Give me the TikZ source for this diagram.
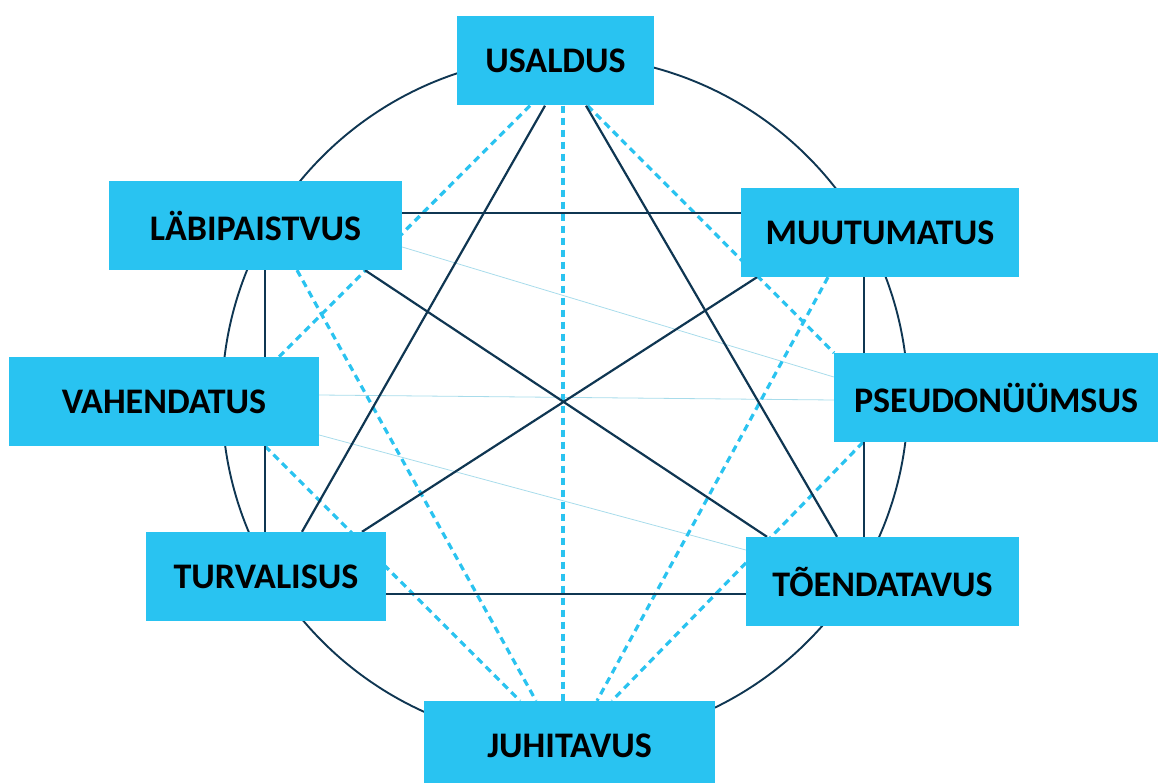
\documentclass[tikz,border=0pt]{standalone}
\usepackage{fontspec}
\setmainfont{Carlito}
\usetikzlibrary{backgrounds}
\definecolor{boxblue}{HTML}{29C3F1}
\definecolor{navy}{HTML}{0F3652}
\definecolor{dashblue}{HTML}{2AC3F0}
\definecolor{thinblue}{HTML}{A8DCEB}
\tikzset{
  lbl/.style={rectangle, fill=boxblue, inner sep=0pt, minimum height=89pt,
    font=\fontsize{36}{42}\selectfont\bfseries, text=black},
  solidln/.style={draw=navy, line width=2.2pt},
  dashln/.style={draw=dashblue, line width=3.2pt, dash pattern=on 7pt off 5pt},
  thinln/.style={draw=thinblue, line width=0.8pt},
  ring/.style={draw=navy, line width=1.9pt}
}
\begin{document}
\begin{tikzpicture}[x=1pt, y=-1pt]
\useasboundingbox (0,0) rectangle (1158,783);
\node[lbl, minimum width=197pt] (U) at (555.5,61) {USALDUS};
\node[lbl, minimum width=293pt] (L) at (255.5,225.5) {LÄBIPAISTVUS};
\node[lbl, minimum width=278pt] (M) at (880,232.5) {MUUTUMATUS};
\node[lbl, minimum width=324pt] (P) at (996,397.5) {PSEUDONÜÜMSUS};
\node[lbl, minimum width=310pt] (V) at (164,401.5) {VAHENDATUS};
\node[lbl, minimum width=240pt] (Tu) at (266,576.5) {TURVALISUS};
\node[lbl, minimum width=273pt] (To) at (882.5,581.5) {TÕENDATAVUS};
\node[lbl, minimum width=291pt] (J) at (569.5,745.5) {JUHITAVUS};
\coordinate (C) at (565,399);
\begin{scope}[on background layer]
  \draw[ring] (C) circle[radius=343pt];
  % thin links
  \draw[thinln] ([yshift=-21.5pt]L.east) -- ([yshift=20.5pt]P.west);
  \draw[thinln] ([yshift=6.5pt]V.east) -- ([yshift=-2.5pt]P.west);
  \draw[thinln] ([yshift=-33.5pt]V.east) -- ([yshift=31.5pt]To.west);
  % dashed links
  \draw[dashln] ([xshift=-25.5pt]U.south) -- ([xshift=115pt]V.north);
  \draw[dashln] ([xshift=32pt]U.south) -- ([xshift=-162pt]P.north);
  \draw[dashln] ([xshift=7.5pt]U.south) -- ([xshift=-6.5pt]J.north);
  \draw[dashln] ([xshift=41.5pt]L.south) -- ([xshift=-33.5pt]J.north);
  \draw[dashln] ([xshift=101pt]V.south) -- ([xshift=-49.5pt]J.north);
  \draw[dashln] ([xshift=-52pt]M.south) -- ([xshift=27.5pt]J.north);
  \draw[dashln] ([xshift=-133pt]P.south) -- ([xshift=42.5pt]J.north);
  % solid links
  \draw[solidln] ([xshift=-10.5pt]U.south) -- ([xshift=36pt]Tu.north);
  \draw[solidln] ([xshift=30.5pt]U.south) -- ([xshift=-45.5pt]To.north);
  \draw[solidln] ([yshift=12.5pt]L.east) -- ([yshift=19.5pt]M.west);
  \draw[solidln] ([xshift=109.5pt]L.south) -- ([xshift=-115.5pt]To.north);
  \draw[solidln] ([xshift=-123pt]M.south) -- ([xshift=96pt]Tu.north);
  \draw[solidln] ([xshift=9.5pt]L.south) -- ([xshift=-1pt]Tu.north);
  \draw[solidln] ([xshift=-16pt]M.south) -- ([xshift=-18.5pt]To.north);
  \draw[solidln] ([yshift=-17.5pt]Tu.east) -- ([yshift=-12.5pt]To.west);
\end{scope}
\end{tikzpicture}
\end{document}
